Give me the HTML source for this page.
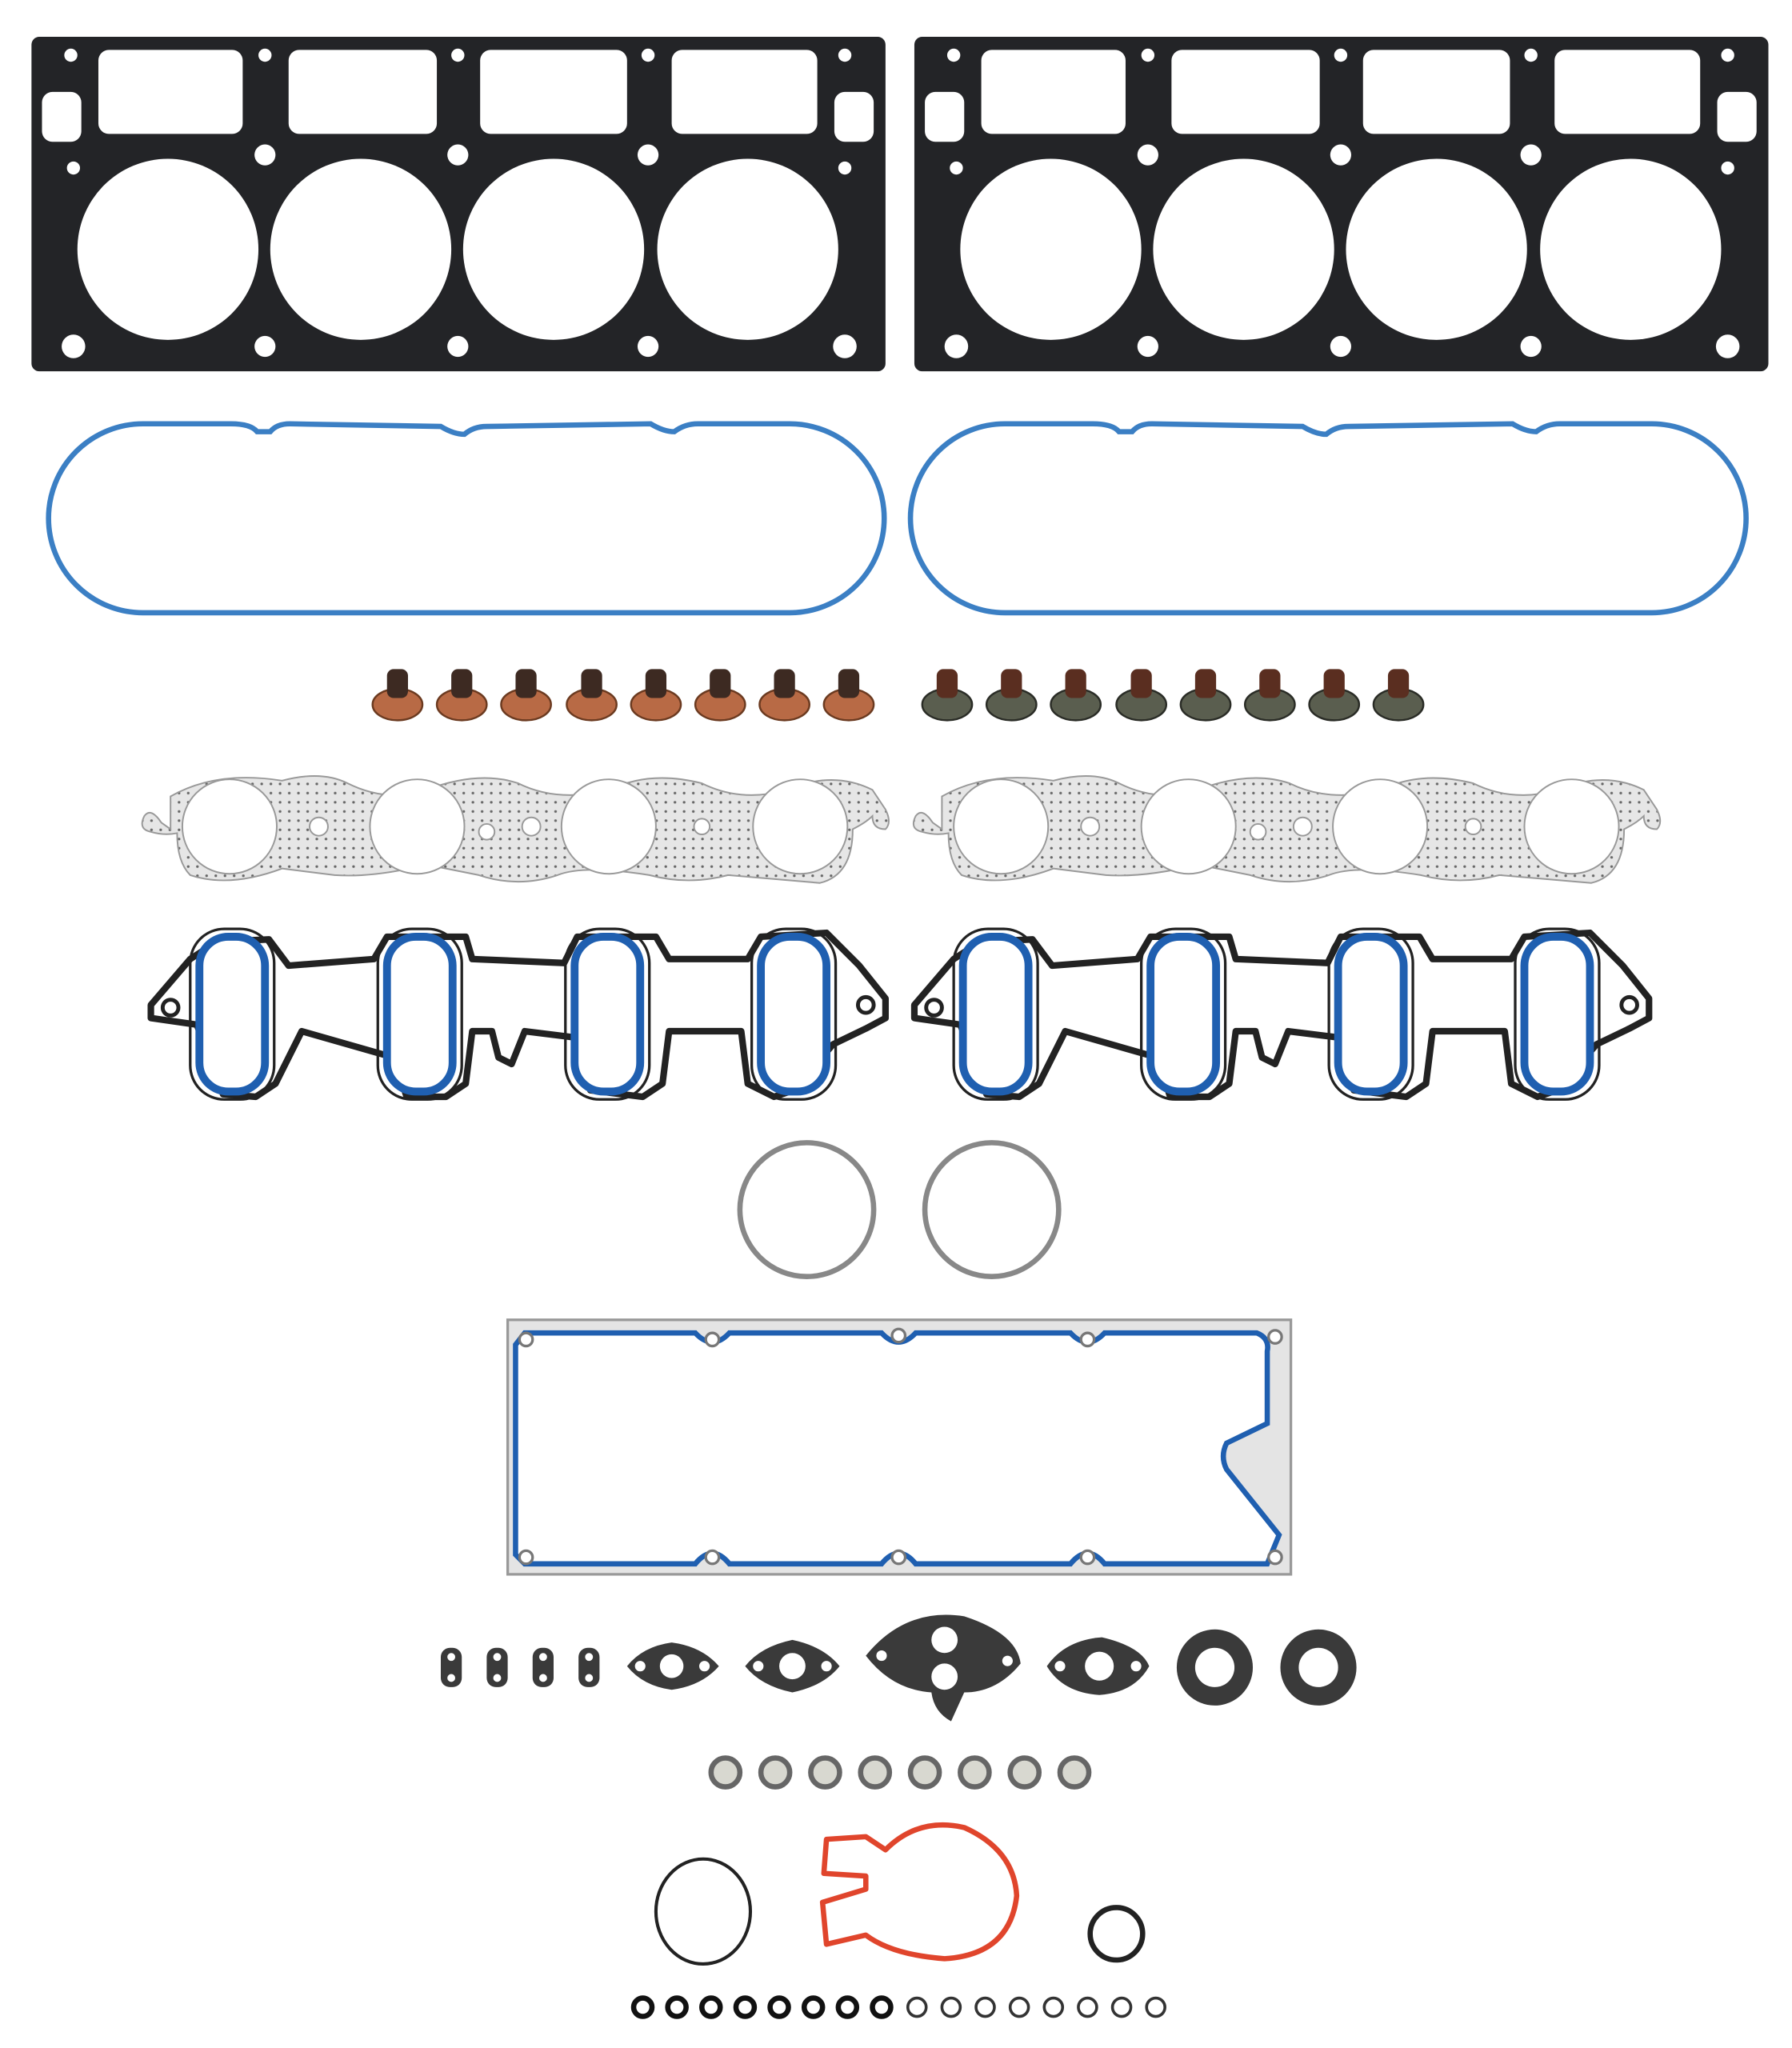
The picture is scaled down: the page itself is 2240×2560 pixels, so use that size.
<!DOCTYPE html>
<html><head><meta charset="utf-8"><style>
html,body{margin:0;padding:0;background:#fff;}
svg{display:block;}
</style></head><body>
<svg width="2240" height="2560" viewBox="0 0 1366 1561" xmlns="http://www.w3.org/2000/svg">
<defs>
<pattern id="dots" width="7" height="7" patternUnits="userSpaceOnUse">
<rect width="7" height="7" fill="#e6e6e6"/><circle cx="3.5" cy="3.5" r="1" fill="#666"/>
</pattern>
<g id="head">
<rect x="0" y="0" width="651" height="255" rx="6" fill="#232427"/>
<rect x="51" y="10" width="110" height="64" rx="8" fill="#fff"/>
<rect x="196" y="10" width="113" height="64" rx="8" fill="#fff"/>
<rect x="342" y="10" width="112" height="64" rx="8" fill="#fff"/>
<rect x="488" y="10" width="111" height="64" rx="8" fill="#fff"/>
<rect x="8" y="42" width="30" height="38" rx="8" fill="#fff"/>
<rect x="612" y="42" width="30" height="38" rx="8" fill="#fff"/>
<circle cx="104" cy="162" r="69" fill="#fff"/>
<circle cx="251" cy="162" r="69" fill="#fff"/>
<circle cx="398" cy="162" r="69" fill="#fff"/>
<circle cx="546" cy="162" r="69" fill="#fff"/>
<g fill="#fff">
<circle cx="30" cy="14" r="5"/><circle cx="178" cy="14" r="5"/><circle cx="325" cy="14" r="5"/><circle cx="470" cy="14" r="5"/><circle cx="620" cy="14" r="5"/>
<circle cx="32" cy="236" r="9"/><circle cx="178" cy="236" r="8"/><circle cx="325" cy="236" r="8"/><circle cx="470" cy="236" r="8"/><circle cx="620" cy="236" r="9"/>
<circle cx="178" cy="90" r="8"/><circle cx="325" cy="90" r="8"/><circle cx="470" cy="90" r="8"/><circle cx="32" cy="100" r="5"/><circle cx="620" cy="100" r="5"/>
<circle cx="30" cy="48" r="4"/><circle cx="620" cy="48" r="4"/>
</g>
</g>
<g id="cover">
<path d="M73,2 L140,2 Q155,2 160,8 L170,8 Q175,2 185,2 L300,4 Q310,10 318,10 Q325,4 335,4 L460,2 Q470,8 478,8 Q486,2 496,2 L566,2 A72,72 0 0 1 566,146 L73,146 A72,72 0 0 1 73,2 Z" fill="none" stroke="#3b7fc4" stroke-width="4"/>
</g>
<g id="exh">
<path d="M25,20 Q60,0 110,8 Q140,0 160,10 Q190,25 220,15 Q260,0 290,10 Q320,25 360,15 Q390,0 430,10 Q460,25 495,15 Q530,0 560,15 L570,30 Q575,40 570,45 Q560,45 560,35 Q555,40 545,45 Q545,80 520,86 L450,80 Q420,88 390,80 Q340,72 320,80 Q290,90 260,80 L220,72 Q180,82 150,80 L110,75 Q70,90 40,80 Q30,70 30,48 Q20,50 10,47 Q0,45 5,35 Q10,28 18,40 L25,45 Z" fill="url(#dots)" stroke="#999" stroke-width="1.2"/>
<g fill="#fff" stroke="#999" stroke-width="1.2">
<circle cx="70" cy="43" r="36"/><circle cx="213" cy="43" r="36"/><circle cx="359" cy="43" r="36"/><circle cx="505" cy="43" r="36"/>
<circle cx="138" cy="43" r="7"/><circle cx="266" cy="47" r="6"/><circle cx="300" cy="43" r="7"/><circle cx="430" cy="43" r="6"/>
</g>
</g>
<g id="intake">
<path d="M5,60 L35,25 L55,12 L95,10 L110,30 L175,25 L185,8 L245,8 L250,25 L320,28 L330,8 L390,8 L400,25 L460,25 L470,8 L520,5 L545,30 L565,55 L565,70 L550,78 L525,90 L495,125 L480,130 L460,120 L455,80 L400,80 L395,120 L380,130 L340,125 L330,85 L290,80 L280,105 L270,100 L265,80 L250,80 L245,120 L230,130 L200,130 L190,100 L120,80 L100,120 L85,130 L60,128 L50,100 L40,75 L5,70 Z" fill="#fff" stroke="#222" stroke-width="5" stroke-linejoin="round"/>
<g fill="#fff" stroke="#1f5fb0" stroke-width="6">
<rect x="42" y="8" width="50" height="118" rx="22"/><rect x="185" y="8" width="50" height="118" rx="22"/><rect x="328" y="8" width="50" height="118" rx="22"/><rect x="470" y="8" width="50" height="118" rx="22"/>
</g>
<g fill="none" stroke="#222" stroke-width="2">
<rect x="35" y="2" width="64" height="130" rx="26"/><rect x="178" y="2" width="64" height="130" rx="26"/><rect x="321" y="2" width="64" height="130" rx="26"/><rect x="463" y="2" width="64" height="130" rx="26"/>
</g>
<circle cx="20" cy="62" r="6" fill="#fff" stroke="#222" stroke-width="3"/>
<circle cx="550" cy="60" r="6" fill="#fff" stroke="#222" stroke-width="3"/>
</g>
</defs>
<rect width="1366" height="1561" fill="#fff"/>
<use href="#head" x="24" y="28"/>
<use href="#head" x="697" y="28"/>
<use href="#cover" x="36" y="321"/>
<use href="#cover" x="693" y="321"/>
<g>
<g fill="#b86a45" stroke="#6b3a20" stroke-width="1.5">
<ellipse cx="303" cy="537" rx="19" ry="12"/><ellipse cx="352" cy="537" rx="19" ry="12"/><ellipse cx="401" cy="537" rx="19" ry="12"/><ellipse cx="451" cy="537" rx="19" ry="12"/><ellipse cx="500" cy="537" rx="19" ry="12"/><ellipse cx="549" cy="537" rx="19" ry="12"/><ellipse cx="598" cy="537" rx="19" ry="12"/><ellipse cx="647" cy="537" rx="19" ry="12"/>
</g>
<g fill="#3d2a22"><rect x="295" y="510" width="16" height="22" rx="5"/><rect x="344" y="510" width="16" height="22" rx="5"/><rect x="393" y="510" width="16" height="22" rx="5"/><rect x="443" y="510" width="16" height="22" rx="5"/><rect x="492" y="510" width="16" height="22" rx="5"/><rect x="541" y="510" width="16" height="22" rx="5"/><rect x="590" y="510" width="16" height="22" rx="5"/><rect x="639" y="510" width="16" height="22" rx="5"/></g>
<g fill="#5a5e4f" stroke="#2a2c26" stroke-width="1.5">
<ellipse cx="722" cy="537" rx="19" ry="12"/><ellipse cx="771" cy="537" rx="19" ry="12"/><ellipse cx="820" cy="537" rx="19" ry="12"/><ellipse cx="870" cy="537" rx="19" ry="12"/><ellipse cx="919" cy="537" rx="19" ry="12"/><ellipse cx="968" cy="537" rx="19" ry="12"/><ellipse cx="1017" cy="537" rx="19" ry="12"/><ellipse cx="1066" cy="537" rx="19" ry="12"/>
</g>
<g fill="#5a2e20"><rect x="714" y="510" width="16" height="22" rx="5"/><rect x="763" y="510" width="16" height="22" rx="5"/><rect x="812" y="510" width="16" height="22" rx="5"/><rect x="862" y="510" width="16" height="22" rx="5"/><rect x="911" y="510" width="16" height="22" rx="5"/><rect x="960" y="510" width="16" height="22" rx="5"/><rect x="1009" y="510" width="16" height="22" rx="5"/><rect x="1058" y="510" width="16" height="22" rx="5"/></g>
</g>
<use href="#exh" x="105" y="587"/>
<use href="#exh" x="693" y="587"/>
<use href="#intake" x="110" y="706"/>
<use href="#intake" x="692" y="706"/>
<circle cx="615" cy="922" r="51" fill="none" stroke="#888" stroke-width="4"/>
<circle cx="756" cy="922" r="51" fill="none" stroke="#888" stroke-width="4"/>
<rect x="387" y="1006" width="597" height="194" fill="#e4e4e4" stroke="#999" stroke-width="2"/>
<path d="M400,1016 L530,1016 Q543,1030 556,1016 L672,1016 Q685,1030 698,1016 L816,1016 Q829,1030 842,1016 L958,1016 Q968,1020 966,1030 L966,1085 L935,1100 Q930,1110 935,1120 L975,1170 L966,1192 L842,1192 Q829,1176 816,1192 L698,1192 Q685,1176 672,1192 L556,1192 Q543,1176 530,1192 L400,1192 L393,1185 L393,1025 Z" fill="#fff" stroke="#1f5fb0" stroke-width="4"/>
<g fill="#fff" stroke="#777" stroke-width="2">
<circle cx="401" cy="1021" r="5"/><circle cx="543" cy="1021" r="5"/><circle cx="685" cy="1018" r="5"/><circle cx="829" cy="1021" r="5"/><circle cx="972" cy="1019" r="5"/>
<circle cx="401" cy="1187" r="5"/><circle cx="543" cy="1187" r="5"/><circle cx="685" cy="1187" r="5"/><circle cx="829" cy="1187" r="5"/><circle cx="972" cy="1187" r="5"/>
</g>
<g fill="#3a3a3a">
<rect x="336" y="1256" width="16" height="30" rx="7"/><rect x="371" y="1256" width="16" height="30" rx="7"/><rect x="406" y="1256" width="16" height="30" rx="7"/><rect x="441" y="1256" width="16" height="30" rx="7"/>
<path d="M478,1270 Q490,1255 512,1252 Q535,1255 548,1270 Q535,1285 512,1288 Q490,1285 478,1270 Z"/>
<path d="M568,1270 Q580,1255 604,1250 Q628,1255 640,1270 Q628,1285 604,1290 Q580,1285 568,1270 Z"/>
<path d="M660,1262 Q690,1225 735,1232 Q775,1245 778,1268 Q760,1290 735,1290 L725,1312 Q712,1305 710,1290 Q680,1288 660,1262 Z"/>
<path d="M798,1270 Q812,1250 840,1248 Q870,1255 876,1270 Q865,1290 838,1292 Q810,1290 798,1270 Z"/>
<circle cx="926" cy="1271" r="29"/><circle cx="1005" cy="1271" r="29"/>
</g>
<g fill="#fff">
<circle cx="344" cy="1263" r="3"/><circle cx="344" cy="1279" r="3"/><circle cx="379" cy="1263" r="3"/><circle cx="379" cy="1279" r="3"/><circle cx="414" cy="1263" r="3"/><circle cx="414" cy="1279" r="3"/><circle cx="449" cy="1263" r="3"/><circle cx="449" cy="1279" r="3"/>
<circle cx="512" cy="1270" r="9"/><circle cx="488" cy="1270" r="4"/><circle cx="537" cy="1270" r="4"/>
<circle cx="604" cy="1270" r="10"/><circle cx="578" cy="1270" r="4"/><circle cx="630" cy="1270" r="4"/>
<circle cx="720" cy="1250" r="10"/><circle cx="720" cy="1278" r="10"/><circle cx="672" cy="1262" r="4"/><circle cx="768" cy="1266" r="4"/>
<circle cx="838" cy="1270" r="11"/><circle cx="808" cy="1270" r="4"/><circle cx="866" cy="1270" r="4"/>
<circle cx="926" cy="1271" r="15"/><circle cx="1005" cy="1271" r="15"/>
</g>
<g fill="#d8d8d0" stroke="#666" stroke-width="4">
<circle cx="553" cy="1351" r="11"/><circle cx="591" cy="1351" r="11"/><circle cx="629" cy="1351" r="11"/><circle cx="667" cy="1351" r="11"/><circle cx="705" cy="1351" r="11"/><circle cx="743" cy="1351" r="11"/><circle cx="781" cy="1351" r="11"/><circle cx="819" cy="1351" r="11"/>
</g>
<ellipse cx="536" cy="1457" rx="36" ry="40" fill="none" stroke="#222" stroke-width="2.5"/>
<path d="M630,1402 L660,1400 L675,1410 Q700,1385 735,1393 Q773,1410 775,1445 Q770,1490 720,1493 Q680,1490 660,1475 L630,1482 L627,1450 L660,1440 L660,1430 L628,1428 Z" fill="none" stroke="#e0452c" stroke-width="4" stroke-linejoin="round"/>
<circle cx="851" cy="1474" r="20" fill="none" stroke="#222" stroke-width="4"/>
<g fill="none" stroke="#111" stroke-width="4">
<circle cx="490" cy="1530" r="7"/><circle cx="516" cy="1530" r="7"/><circle cx="542" cy="1530" r="7"/><circle cx="568" cy="1530" r="7"/><circle cx="594" cy="1530" r="7"/><circle cx="620" cy="1530" r="7"/><circle cx="646" cy="1530" r="7"/><circle cx="672" cy="1530" r="7"/>
</g>
<g fill="none" stroke="#333" stroke-width="2.2">
<circle cx="699" cy="1530" r="7"/><circle cx="725" cy="1530" r="7"/><circle cx="751" cy="1530" r="7"/><circle cx="777" cy="1530" r="7"/><circle cx="803" cy="1530" r="7"/><circle cx="829" cy="1530" r="7"/><circle cx="855" cy="1530" r="7"/><circle cx="881" cy="1530" r="7"/>
</g>
</svg>
</body></html>
